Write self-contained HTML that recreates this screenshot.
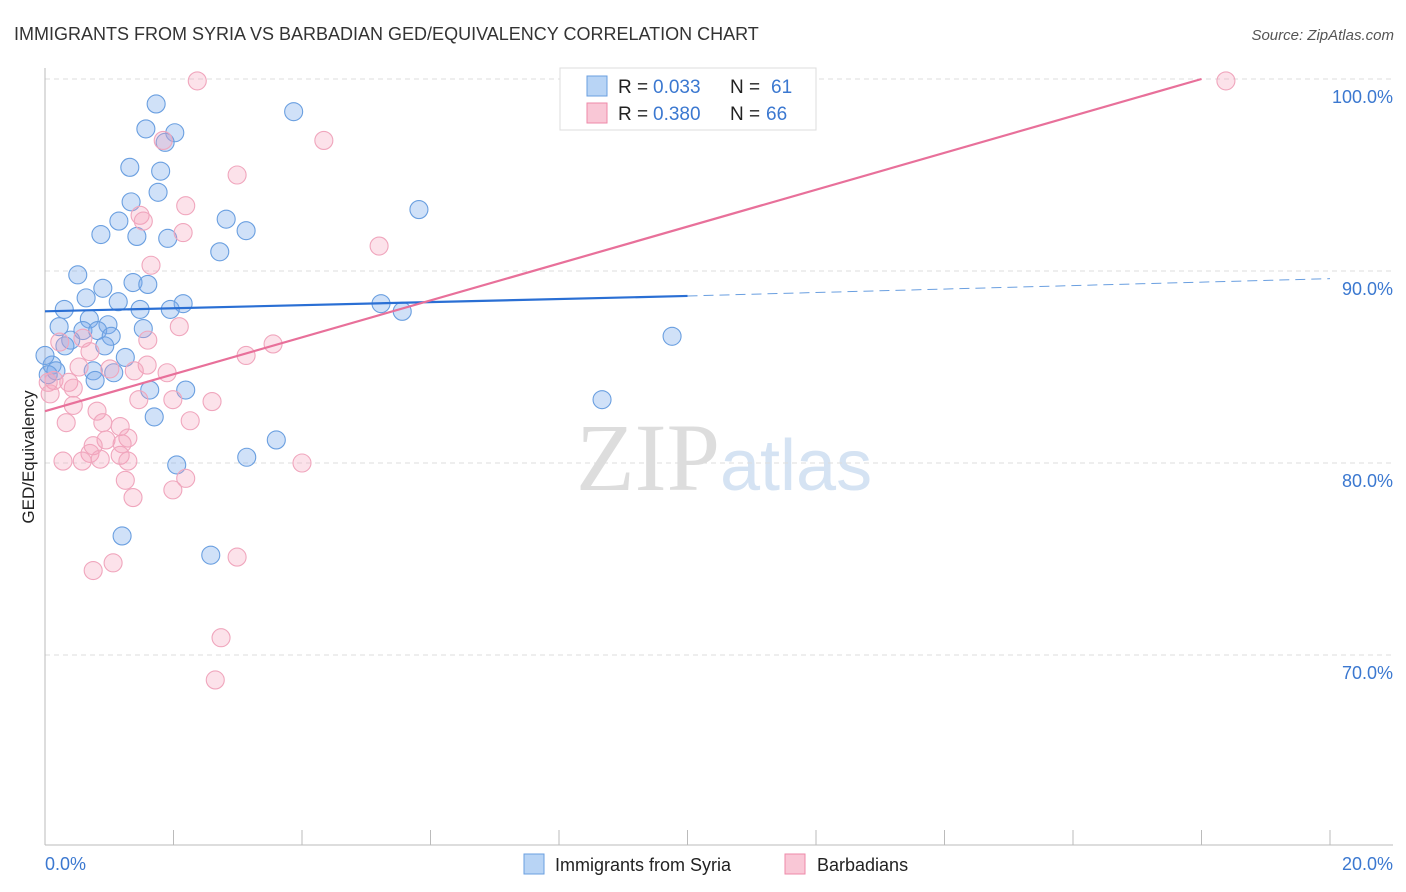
<!DOCTYPE html>
<html><head><meta charset="utf-8"><style>
body{margin:0;background:#fff;font-family:"Liberation Sans",sans-serif}
</style></head><body>
<svg id="chart" width="1406" height="892" xmlns="http://www.w3.org/2000/svg" style="display:block">
<text x="14" y="40" font-size="18" fill="#333">IMMIGRANTS FROM SYRIA VS BARBADIAN GED/EQUIVALENCY CORRELATION CHART</text>
<text x="1394" y="40" font-size="15" fill="#555" font-style="italic" text-anchor="end">Source: ZipAtlas.com</text>
<text x="720" y="490" font-size="96" fill="#ddd" text-anchor="end" font-family="Liberation Serif">ZIP</text>
<text x="720" y="490" font-size="72" fill="#d5e3f3">atlas</text>
<g id="grid"></g><g id="axes"></g><g id="pts"></g><g id="lines"></g>
<text transform="translate(34,457) rotate(-90)" font-size="17" fill="#222" text-anchor="middle">GED/Equivalency</text>
<text x="45" y="870" font-size="18" fill="#3b78d0">0.0%</text>
<text x="1393" y="870" font-size="18" fill="#3b78d0" text-anchor="end">20.0%</text>
<g>
<rect x="560" y="68" width="256" height="62" fill="#fff" stroke="#ddd"/>
<rect x="587" y="76" width="20" height="20" fill="#b8d4f5" stroke="#6a9fe0"/>
<rect x="587" y="103" width="20" height="20" fill="#f9c7d6" stroke="#ee8aa8"/>
<text x="618" y="93" font-size="19" fill="#222">R =</text>
<text x="653" y="93" font-size="19" fill="#3b78d0">0.033</text>
<text x="730" y="93" font-size="19" fill="#222">N =</text>
<text x="771" y="93" font-size="19" fill="#3b78d0">61</text>
<text x="618" y="120" font-size="19" fill="#222">R =</text>
<text x="653" y="120" font-size="19" fill="#3b78d0">0.380</text>
<text x="730" y="120" font-size="19" fill="#222">N =</text>
<text x="766" y="120" font-size="19" fill="#3b78d0">66</text>
</g>
<g>
<rect x="524" y="854" width="20" height="20" fill="#b8d4f5" stroke="#6a9fe0"/>
<text x="555" y="871" font-size="18" fill="#222">Immigrants from Syria</text>
<rect x="785" y="854" width="20" height="20" fill="#f9c7d6" stroke="#ee8aa8"/>
<text x="817" y="871" font-size="18" fill="#222">Barbadians</text>
</g>
</svg>
<script>
const yTicks=[100,90,80,70];
const xTickCount=10;
const syriaX=[1.73,1.57,2.02,1.87,3.87,1.32,1.80,1.76,1.34,2.82,1.15,0.87,1.43,3.13,1.91,5.82,2.72,0.51,1.37,1.60,0.90,0.64,1.14,2.15,0.30,1.48,1.95,5.23,5.56,0.69,0.98,0.22,1.53,0.59,0.82,1.03,0.40,0.31,0.93,1.25,9.76,0.11,0.17,0.05,0.75,1.07,0.78,1.63,2.19,1.70,8.67,3.60,3.14,2.05,1.20,2.58,0.0];
const syriaY=[98.7,97.4,97.2,96.7,98.3,95.4,95.2,94.1,93.6,92.7,92.6,91.9,91.8,92.1,91.7,93.2,91.0,89.8,89.4,89.3,89.1,88.6,88.4,88.3,88.0,88.0,88.0,88.3,87.9,87.5,87.2,87.1,87.0,86.9,86.9,86.6,86.4,86.1,86.1,85.5,86.6,85.1,84.8,84.6,84.8,84.7,84.3,83.8,83.8,82.4,83.3,81.2,80.3,79.9,76.2,75.2,85.6];
const barbX=[2.37,18.38,4.34,1.84,2.99,2.19,1.48,1.53,2.15,5.20,1.65,2.09,3.55,3.13,1.60,0.59,0.23,0.70,1.59,0.53,1.39,1.90,1.01,0.14,0.37,0.05,0.44,1.46,1.99,2.60,0.44,0.81,0.33,0.90,1.17,2.26,1.29,0.95,1.20,0.75,0.70,1.17,0.28,0.58,0.86,1.29,4.00,1.25,2.19,1.99,1.37,2.99,1.06,0.75,2.74,2.65,0.08];
const barbY=[99.9,99.9,96.8,96.8,95.0,93.4,92.9,92.6,92.0,91.3,90.3,87.1,86.2,85.6,86.4,86.5,86.3,85.8,85.1,85.0,84.8,84.7,84.9,84.3,84.2,84.2,83.9,83.3,83.3,83.2,83.0,82.7,82.1,82.1,81.9,82.2,81.3,81.2,81.0,80.9,80.5,80.4,80.1,80.1,80.2,80.1,80.0,79.1,79.2,78.6,78.2,75.1,74.8,74.4,70.9,68.7,83.6];
const syriaFitX=[0,10,20];
const syriaFitY=[87.9,88.7,89.6];
const barbFitX=[0,18];
const barbFitY=[82.7,100];
const NS="http://www.w3.org/2000/svg";
const sx=v=>45+v/20*1285;
const sy=v=>79+(100-v)*19.2;
function mk(tag,attrs,parent){const e=document.createElementNS(NS,tag);for(const k in attrs)e.setAttribute(k,attrs[k]);document.getElementById(parent).appendChild(e);return e;}
yTicks.forEach(t=>{
  const l=mk('line',{x1:45,x2:1393,y1:sy(t),y2:sy(t),stroke:'#ddd','stroke-dasharray':'5,4'},'grid');
  
  
  const tx=mk('text',{x:1393,y:sy(t)+24,'font-size':18,fill:'#3b78d0','text-anchor':'end'},'grid');
  tx.textContent=t.toFixed(1)+'%';
  
  
});
let a=mk('line',{x1:45,x2:45,y1:68,y2:845,stroke:'#bbb'},'axes');


a=mk('line',{x1:45,x2:1393,y1:845,y2:845,stroke:'#bbb'},'axes');


for(let i=0;i<=xTickCount;i++){
  const t=mk('line',{x1:sx(i*2),x2:sx(i*2),y1:830,y2:845,stroke:'#bbb'},'axes');
  
  
}
syriaX.forEach((x,i)=>{
  const c=mk('circle',{cx:sx(x),cy:sy(syriaY[i]),r:9,fill:'rgba(120,170,235,0.35)',stroke:'#6a9fe0','stroke-width':1.1},'pts');
  
  
});
barbX.forEach((x,i)=>{
  const c=mk('circle',{cx:sx(x),cy:sy(barbY[i]),r:9,fill:'rgba(245,160,185,0.3)',stroke:'#f0a6bd','stroke-width':1.1},'pts');
  
  
});
let l=mk('line',{x1:sx(syriaFitX[0]),y1:sy(syriaFitY[0]),x2:sx(syriaFitX[1]),y2:sy(syriaFitY[1]),stroke:'#2a6fd4','stroke-width':2.2},'lines');


l=mk('line',{x1:sx(syriaFitX[1]),y1:sy(syriaFitY[1]),x2:sx(syriaFitX[2]),y2:sy(syriaFitY[2]),stroke:'#6a9fe0','stroke-width':1,'stroke-dasharray':'10,6'},'lines');


l=mk('line',{x1:sx(barbFitX[0]),y1:sy(barbFitY[0]),x2:sx(barbFitX[1]),y2:sy(barbFitY[1]),stroke:'#e8709a','stroke-width':2.2},'lines');


</script>
</body></html>
